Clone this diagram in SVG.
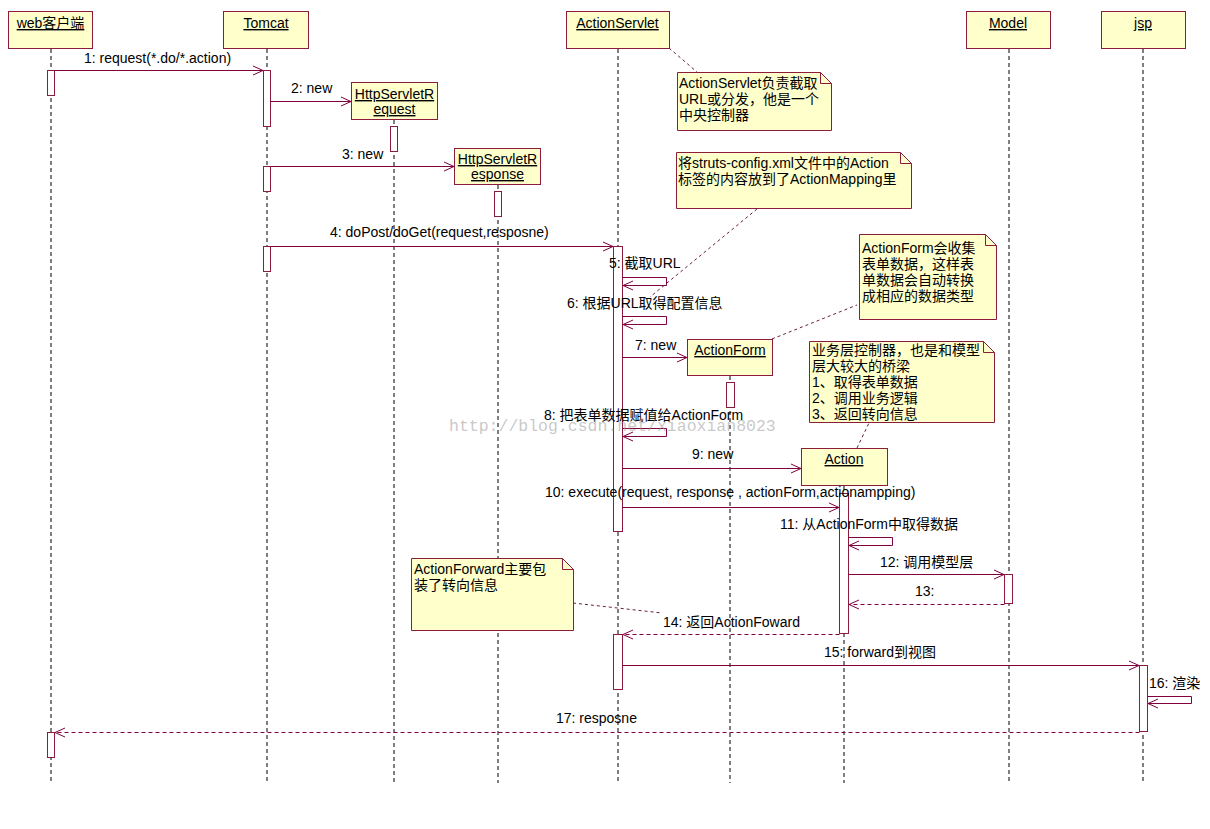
<svg xmlns="http://www.w3.org/2000/svg" width="1210" height="829" viewBox="0 0 1210 829">
<style>
text{font-family:"Liberation Sans","Noto Sans CJK SC",sans-serif;font-size:14px;fill:#000}
.obj{fill:#ffffcc;stroke:#8c1c3c;stroke-width:1}
.nm{text-anchor:middle;text-decoration:underline}
.life{stroke:#000;stroke-width:1;stroke-dasharray:4,3;fill:none}
.act{fill:#fff;stroke:#8c1c3c;stroke-width:1}
.msg{stroke:#800040;stroke-width:1;fill:none;marker-end:url(#arr)}
.ret{stroke:#800040;stroke-width:1;fill:none;stroke-dasharray:4,3;marker-end:url(#arr)}
.note{fill:#ffffcc;stroke:#8c1c3c;stroke-width:1}
.fold{fill:none;stroke:#8c1c3c;stroke-width:1}
.link{stroke:#6a2040;stroke-width:1;stroke-dasharray:3,3;fill:none}
.wm{font-family:"Liberation Mono",monospace;font-size:16.5px;fill:#9a9a9a;fill-opacity:0.55}
</style>
<defs>
<marker id="arr" markerWidth="12" markerHeight="12" refX="11" refY="6" orient="auto" markerUnits="userSpaceOnUse">
<path d="M1,1.5 L11,6 L1,10.5" fill="none" stroke="#800040" stroke-width="1"/>
</marker>
</defs>
<rect width="1210" height="829" fill="#fff"/>

<g id="web">
<rect class="obj" x="8.5" y="11.5" width="84" height="37"/>
<text class="nm" x="50.5" y="28">web客户端</text>
<line class="life" x1="51" y1="49" x2="51" y2="783"/>
<rect class="act" x="47.5" y="70.5" width="7" height="25"/>
<rect class="act" x="47.5" y="732.5" width="7" height="25"/>
</g>

<g id="tomcat">
<rect class="obj" x="223.5" y="11.5" width="85" height="37"/>
<text class="nm" x="266" y="28">Tomcat</text>
<line class="life" x1="267" y1="49" x2="267" y2="783"/>
<rect class="act" x="263.5" y="70.5" width="7" height="56"/>
<rect class="act" x="263.5" y="166.5" width="7" height="25"/>
<rect class="act" x="263.5" y="246.5" width="7" height="25"/>
</g>

<g id="httpRequest">
<rect class="obj" x="351.5" y="82.5" width="86" height="37"/>
<text class="nm" x="394.5" y="99">HttpServletR</text>
<text class="nm" x="394.5" y="114">equest</text>
<line class="life" x1="394" y1="120" x2="394" y2="783"/>
<rect class="act" x="390.5" y="126.5" width="7" height="25"/>
</g>

<g id="httpResponse">
<rect class="obj" x="454.5" y="148.5" width="86" height="36"/>
<text class="nm" x="497.5" y="164">HttpServletR</text>
<text class="nm" x="497.5" y="179">esponse</text>
<line class="life" x1="498" y1="185" x2="498" y2="783"/>
<rect class="act" x="494.5" y="191.5" width="7" height="25"/>
</g>

<g id="actionServlet">
<rect class="obj" x="566.5" y="11.5" width="103" height="37"/>
<text class="nm" x="617.5" y="28">ActionServlet</text>
<line class="life" x1="618" y1="49" x2="618" y2="783"/>
<rect class="act" x="613.5" y="246.5" width="9" height="285"/>
<rect class="act" x="613.5" y="634.5" width="9" height="55"/>
</g>

<g id="actionForm">
<rect class="obj" x="687.5" y="339.5" width="85" height="36"/>
<text class="nm" x="730" y="355">ActionForm</text>
<line class="life" x1="730" y1="376" x2="730" y2="783"/>
<rect class="act" x="726.5" y="382.5" width="8" height="25"/>
</g>

<g id="action">
<rect class="obj" x="801.5" y="448.5" width="86" height="37"/>
<text class="nm" x="844" y="464">Action</text>
<line class="life" x1="844" y1="486" x2="844" y2="783"/>
<rect class="act" x="839.5" y="493.5" width="9" height="140"/>
</g>

<g id="model">
<rect class="obj" x="966.5" y="11.5" width="84" height="37"/>
<text class="nm" x="1008" y="28">Model</text>
<line class="life" x1="1009" y1="49" x2="1009" y2="783"/>
<rect class="act" x="1004.5" y="574.5" width="8" height="29"/>
</g>

<g id="jsp">
<rect class="obj" x="1101.5" y="11.5" width="84" height="37"/>
<text class="nm" x="1143" y="28">jsp</text>
<line class="life" x1="1143" y1="49" x2="1143" y2="783"/>
<rect class="act" x="1139.5" y="665.5" width="8" height="66"/>
</g>

<g id="note1">
<path class="note" d="M677.5,72.5 H820.5 L831.5,83.5 V130.5 H677.5 Z"/>
<path class="fold" d="M820.5,72.5 V83.5 H831.5"/>
<text x="679" y="88">ActionServlet负责截取</text>
<text x="679" y="104">URL或分发，他是一个</text>
<text x="679" y="120">中央控制器</text>
</g>

<g id="note2">
<path class="note" d="M676.5,152.5 H900.5 L911.5,163.5 V208.5 H676.5 Z"/>
<path class="fold" d="M900.5,152.5 V163.5 H911.5"/>
<text x="678" y="168">将struts-config.xml文件中的Action</text>
<text x="678" y="184">标签的内容放到了ActionMapping里</text>
</g>

<g id="note3">
<path class="note" d="M859.5,234.5 H985.5 L996.5,245.5 V319.5 H859.5 Z"/>
<path class="fold" d="M985.5,234.5 V245.5 H996.5"/>
<text x="862" y="253">ActionForm会收集</text>
<text x="862" y="269">表单数据，这样表</text>
<text x="862" y="285">单数据会自动转换</text>
<text x="862" y="301">成相应的数据类型</text>
</g>

<g id="note4">
<path class="note" d="M809.5,341.5 H983.5 L994.5,352.5 V422.5 H809.5 Z"/>
<path class="fold" d="M983.5,341.5 V352.5 H994.5"/>
<text x="812" y="355">业务层控制器，也是和模型</text>
<text x="812" y="371">层大较大的桥梁</text>
<text x="812" y="387">1、取得表单数据</text>
<text x="812" y="403">2、调用业务逻辑</text>
<text x="812" y="419">3、返回转向信息</text>
</g>

<g id="note5">
<path class="note" d="M411.5,558.5 H562.5 L573.5,569.5 V630.5 H411.5 Z"/>
<path class="fold" d="M562.5,558.5 V569.5 H573.5"/>
<text x="414" y="574">ActionForward主要包</text>
<text x="414" y="590">装了转向信息</text>
</g>

<g id="connectors">
<line class="link" x1="669" y1="48" x2="697" y2="72"/>
<line class="link" x1="757" y1="209" x2="650" y2="297"/>
<line class="link" x1="772" y1="339" x2="857" y2="305"/>
<line class="link" x1="857" y1="448" x2="869" y2="423"/>
<line class="link" x1="573" y1="603" x2="662" y2="613"/>

<path class="msg" d="M54.5,70.5 H263"/>
<text x="84" y="63">1: request(*.do/*.action)</text>
<path class="msg" d="M270.5,101.5 H351"/>
<text x="291" y="93">2: new</text>
<path class="msg" d="M270.5,166.5 H454"/>
<text x="342" y="159">3: new</text>
<path class="msg" d="M270.5,246.5 H613"/>
<text x="330" y="237">4: doPost/doGet(request,resposne)</text>
<path class="msg" d="M622.5,277.5 H666.5 V285.5 H623"/>
<text x="609" y="268">5: 截取URL</text>
<path class="msg" d="M622.5,316.5 H666.5 V324.5 H623"/>
<text x="567" y="308">6: 根据URL取得配置信息</text>
<path class="msg" d="M622.5,357.5 H687"/>
<text x="635" y="350">7: new</text>
<path class="msg" d="M622.5,428.5 H666.5 V436.5 H623"/>
<text x="544" y="420">8: 把表单数据赋值给ActionForm</text>
<path class="msg" d="M622.5,468.5 H801"/>
<text x="692" y="459">9: new</text>
<path class="msg" d="M622.5,507.5 H839"/>
<text x="545" y="497">10: execute(request, response , actionForm,actionampping)</text>
<path class="msg" d="M848.5,537.5 H892.5 V545.5 H849"/>
<text x="780" y="529">11: 从ActionForm中取得数据</text>
<path class="msg" d="M848.5,574.5 H1004"/>
<text x="880" y="567">12: 调用模型层</text>
<path class="ret" d="M1004.5,604.5 H849"/>
<text x="915" y="596">13:</text>
<path class="ret" d="M839.5,634.5 H623"/>
<text x="663" y="627">14: 返回ActionFoward</text>
<path class="msg" d="M622.5,665.5 H1139"/>
<text x="824" y="657">15: forward到视图</text>
<path class="msg" d="M1147.5,696.5 H1191.5 V703.5 H1148"/>
<text x="1149" y="688">16: 渲染</text>
<path class="ret" d="M1139.5,732.5 H55"/>
<text x="556" y="723">17: resposne</text>
</g>

<text class="wm" x="449" y="431">http://blog.csdn.net/xiaoxian8023</text>
</svg>
